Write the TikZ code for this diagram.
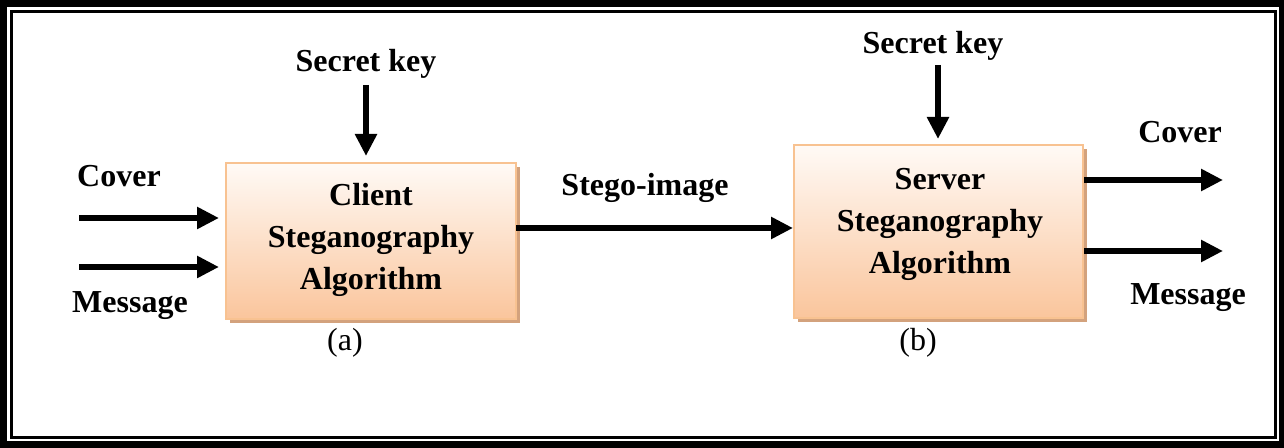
\documentclass[tikz,border=0pt]{standalone}
\usepackage{fontspec}
\setmainfont{Liberation Serif}
\usetikzlibrary{arrows.meta,shadows}
\definecolor{boxedge}{HTML}{F8C291}
\definecolor{boxtop}{HTML}{FFFAF6}
\definecolor{boxbot}{HTML}{FAC59C}
\definecolor{shad}{HTML}{D3A27D}
\begin{document}
\begin{tikzpicture}[x=0.5pt,y=-0.5pt,
  lbl/.style={font=\fontsize{16}{21}\selectfont\bfseries, inner sep=0pt, align=center},
  subcap/.style={font=\fontsize{16}{21}\selectfont, inner sep=0pt},
  algbox/.style={draw=boxedge, line width=1pt, top color=boxtop, bottom color=boxbot,
    drop shadow={shadow xshift=2pt, shadow yshift=-2pt, fill=shad, opacity=1}, inner sep=0pt},
  flow/.style={line width=3pt, -{Triangle[length=11pt,width=10.5pt]}}
]
% frame
\fill[black] (0,0) rectangle (1284,448);
\fill[white] (7,7) rectangle (1279,441);
\draw[line width=1.5pt] (11.5,11.5) rectangle (1275.5,437.5);

% boxes
\node[algbox, minimum width=145pt, minimum height=78pt] (c) at (371,241) {};
\node[algbox, minimum width=144.5pt, minimum height=86.5pt] (s) at (938.5,231.5) {};
\node[lbl] (ct) at (371,240) {Client\\Steganography\\Algorithm};
\node[lbl] (st) at (940,224) {Server\\Steganography\\Algorithm};

% labels
\node[lbl] (sk1) at (366,64) {Secret key};
\node[lbl] (sk2) at (933,46) {Secret key};
\node[lbl] (cin) at (119,176) {Cover};
\node[lbl] (min) at (130,306) {Message};
\node[lbl] (stego) at (645,188) {Stego-image};
\node[lbl] (cout) at (1180,132) {Cover};
\node[lbl] (mout) at (1188,298) {Message};
\node[subcap] (la) at (345,343) {(a)};
\node[subcap] (lb) at (918,343) {(b)};

% arrows
\coordinate (k1) at (366,85);
\draw[flow, shorten >=3pt] (k1) -- (k1 |- c.north);
\coordinate (k2) at (938,65);
\draw[flow, shorten >=2.5pt] (k2) -- (k2 |- s.north);
\coordinate (i1) at (79,218);
\coordinate (i2) at (79,267);
\draw[flow, shorten >=3pt] (i1) -- (i1 -| c.west);
\draw[flow, shorten >=3pt] (i2) -- (i2 -| c.west);
\coordinate (m1) at (516,228);
\draw[flow] (m1) -- (m1 -| s.west);
\coordinate (o1) at (1223,180);
\coordinate (o2) at (1223,251);
\draw[flow] (o1 -| s.east) -- (o1);
\draw[flow] (o2 -| s.east) -- (o2);
\end{tikzpicture}
\end{document}
